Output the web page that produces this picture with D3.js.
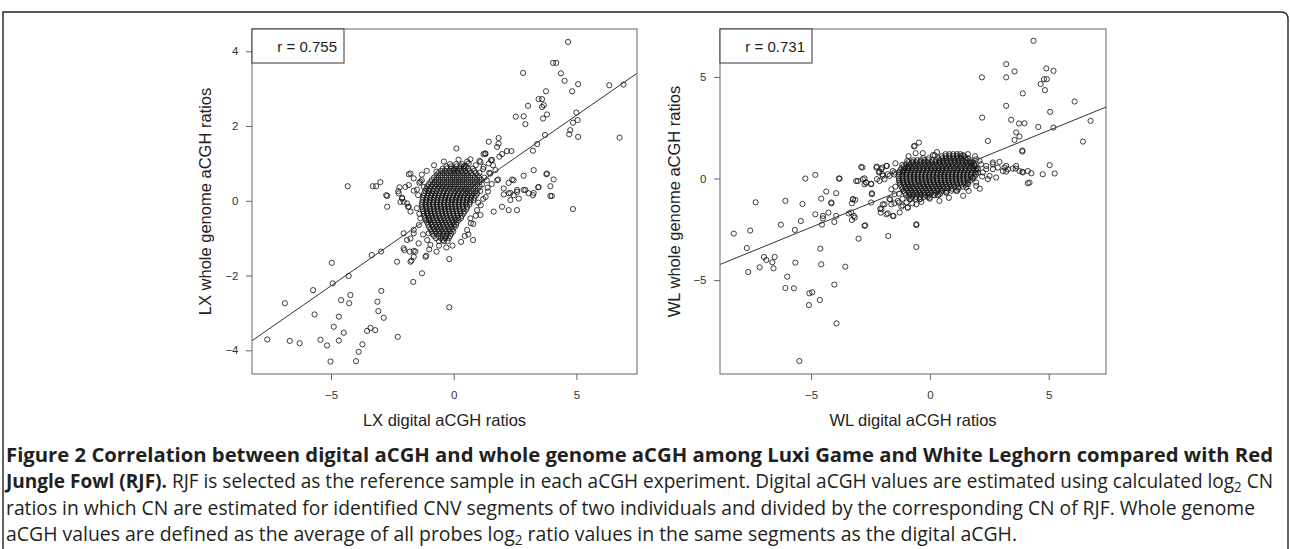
<!DOCTYPE html>
<html>
<head>
<meta charset="utf-8">
<script src="https://cdn.jsdelivr.net/npm/d3@7/dist/d3.min.js"></script>
<style>
body{margin:0;background:#fff;}
svg{display:block;font-family:"Liberation Sans",Arial,sans-serif;}
.cap{font-family:"Open Sans",sans-serif;fill:#231f20;font-size:20px;}
.axis text{fill:#333;font-size:11.5px;}
.axis line{stroke:#666;}
</style>
</head>
<body>
<script>
//Data - LX (Luxi Game) panel, scattered points
var lxPoints = [
[4.66,4.25],[2.83,3.42],[4.05,3.69],[4.18,3.69],[4.37,3.41],[4.52,3.21],[3.76,2.93],[4.83,2.93],[5.07,3.12],[6.34,3.09],[6.92,3.11],
[3.46,2.72],[3.60,2.72],[3.67,2.56],[3.60,2.51],[3.03,2.54],[3.80,2.31],[3.64,2.20],[2.53,2.25],[2.85,2.26],[2.92,2.05],
[5.00,2.36],[5.05,2.16],[4.86,2.09],[4.75,1.89],[4.71,1.78],[5.07,1.71],[6.76,1.69],[3.72,1.76],[3.40,1.52],[3.23,1.34],
[0.11,1.40],[1.83,1.68],[1.83,1.53],[1.77,1.44],[1.43,1.58],[2.17,1.33],[2.35,1.33],[1.97,1.25],[1.22,1.25],[1.29,1.25],
[0.68,1.11],[1.05,1.07],[1.52,1.09],[1.60,0.95],[1.86,1.18],[-0.70,0.78],[0,0.84],[0.44,0.93],[3.26,0.82],[2.85,0.67],
[3.78,0.71],[4.07,0.57],[3.44,0.36],[3.94,0.39],[3.94,0.13],[4.0,0.13],[1.81,0.57],[2.38,0.57],[2.44,0.55],[2.24,0.48],
[2.04,0.33],[2.31,0.21],[2.58,0.24],[2.85,0.29],[3.05,0.20],[3.26,0.21],[2.04,0.17],[2.44,0.15],[3.23,0.15],[4.86,-0.22],
[2.24,0.20],[2.58,0.29],[2.92,0.29],[3.46,0.37],[3.80,0.73],[2.31,0.02],[2.65,0.06],[2.58,-0.25],[2.24,-0.25],[1.77,0.55],
[1.49,0.73],[1.97,-0.16],[1.63,-0.29],[1.09,-0.38],[0.68,-0.47],[0.61,1.00],[0.41,0.91],[1.09,1.04],[1.29,1.27],[1.22,0.91],
[1.43,1.00],[1.56,1.09],[1.70,0.82],[1.25,0.62],[1.38,0.35],[1.30,0.10],[1.10,-0.12],[0.95,-0.25],[0.80,-0.62],[0.55,-0.78],
[1.35,0.55],[1.45,0.75],[1.20,0.85],[1.55,0.45],[1.40,0.25],[1.20,0.05],[1.00,-0.05],[0.90,-0.40],[0.70,-0.60],[0.60,-0.90],
[0.30,-1.10],[-0.05,-1.20],[-0.30,-1.25],[-0.60,-1.20],[-1.00,-1.30],[-1.25,-0.90],[-1.40,-0.35],[-1.50,0.30],[-1.30,0.55],
[-1.10,0.80],[-0.80,0.95],[-0.40,1.05],[0.20,1.10],[0.55,1.05],[0.90,0.95],[1.05,0.75],
[-4.32,0.39],[-3.30,0.39],[-3.16,0.39],[-2.99,0.50],[-2.75,0.15],[-2.21,0.36],[-2.26,0.26],[-1.83,0.71],[-1.63,0.60],
[-1.83,0.42],[-1.63,0.27],[-1.40,0.48],[-1.22,0.37],[-1.02,0.27],[-2.10,0.08],[-2.71,-0.16],[-2.24,0.20],[-2.17,-0.03],
[-1.90,-0.07],[-1.76,-0.29],[-1.86,-0.16],[-1.36,-0.47],[-1.08,-0.34],[-1.02,-0.52],[-2.04,-0.87],[-1.90,-1.05],[-1.76,-1.01],
[-1.63,-0.87],[-1.63,-0.78],[-1.43,-1.14],[-1.08,-1.05],[-0.95,-1.18],[-1.02,-0.87],[-2.01,-1.32],[-1.79,-1.36],[-1.63,-1.34],
[-2.31,-1.63],[-1.72,-1.60],[-1.12,-1.47],[-0.70,-1.36],[-0.45,-1.05],[-0.18,-1.56],[-1.29,-1.94],[-1.65,-2.17],[0.45,-0.94],
[0.79,-1.05],[-0.18,-2.85],[-1.56,-1.36],[-1.63,-1.50],[-2.04,-1.27],[-1.76,-1.63],[-1.15,-1.50],[-2.71,0.13],[-2.10,0.06],
[-2.04,-0.03],[-1.83,-0.16],[-1.76,0.73],[-1.36,0.51],[-1.97,0.37],[-1.45,0.15],[-1.50,-0.20],[-1.42,-0.65],[-1.30,0.70],
[-3.34,-1.45],[-2.96,-1.36],[-4.97,-1.66],[-4.93,-2.21],[-4.28,-2.01],[-5.73,-2.39],[-6.88,-2.74],
[-5.67,-3.04],[-4.21,-2.52],[-4.26,-2.74],[-4.59,-2.66],[-4.68,-3.10],[-4.89,-3.37],[-4.48,-3.53],[-4.68,-3.74],[-2.95,-2.41],
[-3.11,-2.70],[-3.07,-2.95],[-2.85,-3.13],[-3.53,-3.48],[-3.39,-3.40],[-3.20,-3.46],[-2.28,-3.64],[-7.60,-3.71],[-6.68,-3.75],
[-6.28,-3.81],[-5.43,-3.72],[-5.16,-3.87],[-3.72,-3.84],[-3.87,-4.04],[-3.98,-4.29],[-5.02,-4.30]
];

//LX dense core (the black blob), one row per y value: [y, [x values]]
var lxCore = [
[0.98,[-0.15,0.1,0.35]],
[0.92,[-0.3,-0.1,0.12,0.3,0.5]],
[0.86,[-0.45,-0.28,-0.1,0.06,0.22,0.4,0.58,0.78]],
[0.80,[-0.52,-0.36,-0.18,-0.02,0.14,0.3,0.47,0.64,0.84]],
[0.74,[-0.62,-0.45,-0.28,-0.12,0.04,0.2,0.37,0.53,0.7,0.9]],
[0.68,[-0.7,-0.54,-0.37,-0.2,-0.04,0.12,0.28,0.44,0.6,0.77,0.98]],
[0.62,[-0.8,-0.63,-0.46,-0.3,-0.13,0.03,0.19,0.35,0.52,0.68,0.86,1.04]],
[0.56,[-0.88,-0.71,-0.54,-0.38,-0.21,-0.05,0.11,0.27,0.43,0.6,0.77,0.95,1.12]],
[0.50,[-0.95,-0.78,-0.62,-0.45,-0.29,-0.12,0.04,0.2,0.36,0.52,0.69,0.86,1.05]],
[0.44,[-1.02,-0.86,-0.69,-0.53,-0.37,-0.2,-0.04,0.12,0.28,0.45,0.61,0.78,0.96,1.15]],
[0.38,[-1.08,-0.92,-0.76,-0.6,-0.44,-0.28,-0.12,0.04,0.2,0.37,0.53,0.7,0.88,1.06]],
[0.32,[-1.12,-0.97,-0.82,-0.66,-0.5,-0.34,-0.18,-0.02,0.14,0.3,0.46,0.62,0.8,0.98]],
[0.26,[-1.16,-1.0,-0.85,-0.7,-0.55,-0.4,-0.25,-0.09,0.07,0.23,0.39,0.55,0.72,0.9,1.08]],
[0.20,[-1.2,-1.04,-0.89,-0.74,-0.59,-0.43,-0.28,-0.13,0.02,0.17,0.33,0.49,0.65,0.82,0.96]],
[0.14,[-1.22,-1.07,-0.92,-0.77,-0.62,-0.47,-0.32,-0.17,-0.02,0.13,0.28,0.43,0.58,0.74,0.9]],
[0.08,[-1.25,-1.1,-0.95,-0.8,-0.65,-0.5,-0.35,-0.2,-0.05,0.1,0.25,0.4,0.55,0.7,0.84]],
[0.02,[-1.27,-1.12,-0.97,-0.82,-0.67,-0.52,-0.37,-0.22,-0.07,0.08,0.23,0.38,0.53,0.68,0.8]],
[-0.04,[-1.28,-1.13,-0.98,-0.83,-0.68,-0.53,-0.38,-0.23,-0.08,0.07,0.22,0.37,0.52,0.66]],
[-0.10,[-1.3,-1.15,-1.0,-0.85,-0.7,-0.55,-0.4,-0.25,-0.1,0.05,0.2,0.35,0.5,0.64]],
[-0.16,[-1.28,-1.13,-0.98,-0.83,-0.68,-0.53,-0.38,-0.23,-0.08,0.07,0.22,0.37,0.55]],
[-0.22,[-1.26,-1.11,-0.96,-0.81,-0.66,-0.51,-0.36,-0.21,-0.06,0.09,0.24,0.4,0.52]],
[-0.28,[-1.24,-1.09,-0.94,-0.79,-0.64,-0.49,-0.34,-0.19,-0.04,0.11,0.26,0.45]],
[-0.34,[-1.22,-1.07,-0.92,-0.77,-0.62,-0.47,-0.32,-0.17,-0.02,0.13,0.28,0.4]],
[-0.40,[-1.2,-1.05,-0.9,-0.75,-0.6,-0.45,-0.3,-0.15,0,0.15,0.33]],
[-0.46,[-1.16,-1.01,-0.86,-0.71,-0.56,-0.41,-0.26,-0.11,0.04,0.18,0.3]],
[-0.52,[-1.12,-0.97,-0.82,-0.67,-0.52,-0.37,-0.22,-0.07,0.08,0.2]],
[-0.58,[-1.08,-0.93,-0.78,-0.63,-0.48,-0.33,-0.18,-0.03,0.12]],
[-0.64,[-1.04,-0.89,-0.74,-0.59,-0.44,-0.29,-0.14,0.01,0.1]],
[-0.70,[-1.0,-0.85,-0.7,-0.55,-0.4,-0.25,-0.1,0.04]],
[-0.76,[-0.95,-0.8,-0.65,-0.5,-0.35,-0.2,-0.05]],
[-0.82,[-0.9,-0.75,-0.6,-0.45,-0.3,-0.15,-0.02]],
[-0.88,[-0.86,-0.7,-0.55,-0.4,-0.25,-0.1]],
[-0.94,[-0.8,-0.62,-0.45,-0.3,-0.15]],
[-1.00,[-0.72,-0.52,-0.35,-0.2]],
[-1.08,[-0.6,-0.4,-0.25]]
];

//Data - WL (White Leghorn) panel
var wlPoints = [
[4.36,6.78],[3.21,5.63],[2.19,4.98],[3.21,4.98],[3.56,5.27],[4.90,5.42],[5.20,5.30],[4.80,4.89],[4.92,4.89],[4.66,4.65],[4.84,4.35],
[3.91,4.19],[6.09,3.79],[3.21,3.58],[5.06,3.28],[2.20,3.00],[3.42,2.89],[3.75,2.71],[3.98,2.72],[6.76,2.84],[4.56,2.54],[5.20,2.51],
[3.63,2.27],[3.77,2.07],[3.56,1.90],[2.44,1.85],[6.44,1.82],[3.89,1.33],[3.89,1.38],[-0.67,1.58],[-0.46,1.77],[-0.60,1.25],[0.13,1.15],
[1.39,1.15],[5.04,0.66],[4.75,0.21],[5.25,0.25],[4.12,-0.23],[3.61,0.49],[3.89,0.33],[4.27,0.26],[3.21,0.62],[2.93,0.82],[2.65,0.70],
[2.37,0.62],[3.21,0.34],[-0.64,1.61],[0.20,1.15],[2.09,0.87],[1.88,0.66],[2.37,0.46],[2.65,0.79],[3.14,0.54],
[2.23,0.30],[2.51,0.13],[2.65,0.46],[2.86,0.54],[3.07,0.37],[3.28,0.46],[2.44,-0.03],[2.79,0.05],[3.49,0.49],[3.77,0.37],
[3.91,0.30],[4.12,0.37],[4.19,-0.20],[3.63,0.62],[1.81,0.05],[1.95,-0.20],[1.60,-0.28],[2.02,0.46],[1.74,0.79],[1.95,0.95],
[-1.45,0.75],[-1.50,0.20],[-1.45,-0.40],[-1.30,-0.75],[-1.15,-1.00],[-0.90,1.10],[-0.30,1.25],[0.30,1.30],[1.60,1.20],
[1.90,1.10],[2.15,0.70],[2.20,0.10],[2.10,-0.50],[1.40,-0.85],[0.80,-0.95],[0.40,-1.10],
[-5.24,0],[-4.82,0.18],[-3.83,0],[-4.36,-0.64],[-2.84,0.54],[-3.10,-0.12],[-2.75,0.01],[-2.68,-0.20],[-2.47,-0.25],[-2.44,-0.72],
[-2.23,0.59],[-2.0,0.54],[-1.81,0.62],[-2.12,0.34],[-2.0,0.21],[-2.12,-0.12],[-1.91,-0.03],[-1.70,0.13],[-1.56,0.37],[-1.49,0.30],
[-1.16,0.67],[-0.95,0.87],[-0.72,0.79],[-1.14,0.37],[-0.93,0.54],[-2.89,0.57],[-2.25,0.54],[-2.04,0.46],[-1.83,0.62],[-2.14,0.30],
[-1.98,0.13],[-1.77,0.21],[-2.23,-0.03],[-3.03,-0.12],[-2.82,-0.03],[-2.68,-0.20],[-2.75,-0.28],[-2.47,-0.28],[-3.80,0],
[-1.62,-0.53],[-1.49,-0.77],[-1.70,-1.02],[-1.35,-1.10],[-1.62,-1.27],[-1.20,-1.38],[-0.93,-1.43],[-1.98,-1.27],[-2.04,-1.51],
[-1.83,-1.76],[-1.56,-1.84],[-0.57,-2.25],[-1.27,-1.67],[-0.99,-1.18],[-4.15,-1.18],[-4.50,-1.84],[-3.94,-1.84],[-3.24,-1.02],
[-3.31,-1.67],[-3.16,-1.92],[-2.75,-2.33],[-2.47,-1.18],[-0.85,-1.02],[-0.43,-1.02],[-0.01,-0.94],[0.34,-0.82],[0.69,-0.69],
[1.11,-0.61],[1.53,-0.44],[1.95,-0.36],
[-3.94,-0.72],[-6.08,-1.10],[-7.33,-1.17],[-5.36,-1.25],[-4.57,-0.99],[-4.14,-1.22],[-3.24,-1.02],[-3.14,-1.05],[-3.28,-1.22],
[-2.44,-0.77],[-4.82,-1.76],[-4.27,-1.68],[-4.50,-1.96],[-5.43,-2.09],[-6.27,-2.27],[-4.54,-2.27],[-4.02,-2.14],[-3.41,-1.72],
[-3.20,-1.84],[-3.28,-2.04],[-2.72,-2.30],[-3.0,-2.96],[-5.68,-2.53],[-7.56,-2.56],[-8.25,-2.71],[-7.70,-3.42],[-6.98,-3.86],
[-6.88,-4.01],[-6.53,-3.86],[-6.63,-4.12],[-7.16,-4.37],[-7.64,-4.60],[-6.58,-4.42],[-5.66,-4.14],[-4.61,-3.45],[-4.57,-4.22],
[-3.56,-4.34],[-6.0,-4.83],[-6.08,-5.39],[-5.72,-5.40],[-5.07,-5.65],[-4.95,-5.60],[-4.02,-5.22],[-4.63,-5.98],[-5.09,-6.23],
[-3.93,-7.13],[-5.49,-8.98],[-1.75,-2.83],[-0.57,-2.29],[-0.57,-3.37],[-2.07,-1.68],[-1.91,-1.27],[-1.77,-1.71],[-1.67,-1.02],
[-1.53,-1.84],[-2.09,-1.48],[-1.49,-1.22],[-1.30,-1.18],[-1.14,-1.32],[-0.93,-1.43],[-0.74,-1.22],[-0.57,-1.27],[-0.36,-1.15],
[-0.01,-0.99],[0.20,-0.82],[0.41,-0.77],[0.69,-0.69],[1.63,-0.61]
];

//WL dense core, one row per y value
var wlCore = [
[1.20,[0.66,0.82,0.98,1.14,1.28]],
[1.10,[0.5,0.66,0.82,0.98,1.14,1.3,1.45]],
[1.00,[-0.28,-0.05,0.36,0.52,0.68,0.84,1.0,1.16,1.32,1.48,1.6]],
[0.90,[-0.7,-0.54,-0.38,-0.22,-0.06,0.1,0.26,0.42,0.58,0.74,0.9,1.06,1.22,1.38,1.54,1.7]],
[0.80,[-0.9,-0.74,-0.58,-0.42,-0.26,-0.1,0.06,0.22,0.38,0.54,0.7,0.86,1.02,1.18,1.34,1.5,1.66,1.8]],
[0.70,[-1.0,-0.84,-0.68,-0.52,-0.36,-0.2,-0.04,0.12,0.28,0.44,0.6,0.76,0.92,1.08,1.24,1.4,1.56,1.72,1.86]],
[0.60,[-1.1,-0.94,-0.78,-0.62,-0.46,-0.3,-0.14,0.02,0.18,0.34,0.5,0.66,0.82,0.98,1.14,1.3,1.46,1.62,1.78,1.9]],
[0.50,[-1.2,-1.04,-0.88,-0.72,-0.56,-0.4,-0.24,-0.08,0.08,0.24,0.4,0.56,0.72,0.88,1.04,1.2,1.36,1.52,1.68,1.84,1.96]],
[0.40,[-1.25,-1.09,-0.93,-0.77,-0.61,-0.45,-0.29,-0.13,0.03,0.19,0.35,0.51,0.67,0.83,0.99,1.15,1.31,1.47,1.63,1.79,1.95]],
[0.30,[-1.3,-1.14,-0.98,-0.82,-0.66,-0.5,-0.34,-0.18,-0.02,0.14,0.3,0.46,0.62,0.78,0.94,1.1,1.26,1.42,1.58,1.74,1.9,2.02]],
[0.20,[-1.3,-1.14,-0.98,-0.82,-0.66,-0.5,-0.34,-0.18,-0.02,0.14,0.3,0.46,0.62,0.78,0.94,1.1,1.26,1.42,1.58,1.74,1.94]],
[0.10,[-1.32,-1.16,-1.0,-0.84,-0.68,-0.52,-0.36,-0.2,-0.04,0.12,0.28,0.44,0.6,0.76,0.92,1.08,1.24,1.4,1.56,1.72,1.88]],
[0.00,[-1.3,-1.14,-0.98,-0.82,-0.66,-0.5,-0.34,-0.18,-0.02,0.14,0.3,0.46,0.62,0.78,0.94,1.1,1.26,1.42,1.58,1.8]],
[-0.10,[-1.3,-1.14,-0.98,-0.82,-0.66,-0.5,-0.34,-0.18,-0.02,0.14,0.3,0.46,0.62,0.78,0.94,1.1,1.26,1.42,1.58,1.7]],
[-0.20,[-1.28,-1.12,-0.96,-0.8,-0.64,-0.48,-0.32,-0.16,0,0.16,0.32,0.48,0.64,0.8,0.96,1.12,1.28,1.44,1.6]],
[-0.30,[-1.25,-1.09,-0.93,-0.77,-0.61,-0.45,-0.29,-0.13,0.03,0.19,0.35,0.51,0.67,0.83,0.99,1.15,1.31,1.5]],
[-0.40,[-1.2,-1.04,-0.88,-0.72,-0.56,-0.4,-0.24,-0.08,0.08,0.24,0.4,0.56,0.72,0.88,1.04,1.2,1.4]],
[-0.50,[-1.15,-0.99,-0.83,-0.67,-0.51,-0.35,-0.19,-0.03,0.13,0.29,0.45,0.61,0.77,0.93,1.2]],
[-0.60,[-1.1,-0.94,-0.78,-0.62,-0.46,-0.3,-0.14,0.02,0.18,0.34,0.5,0.7,0.9,1.15]],
[-0.70,[-1.05,-0.89,-0.73,-0.57,-0.41,-0.25,-0.09,0.07,0.23,0.45]],
[-0.80,[-1.0,-0.84,-0.68,-0.52,-0.36,-0.2,-0.04,0.15]],
[-0.90,[-0.9,-0.74,-0.58,-0.42,-0.26,-0.1]],
[-1.00,[-0.8,-0.6,-0.4]]
];

//Regression lines [intercept, slope] and correlations
var lxFit = [0.005, 0.456];
var wlFit = [-0.017, 0.477];
var rValues = ["0.755", "0.731"];

//Tick labels
var lxXTicks = [-5, 0, 5], lxYTicks = [-4, -2, 0, 2, 4];
var wlXTicks = [-5, 0, 5], wlYTicks = [-5, 0, 5];

//Axis titles
var xTitles = ["LX digital aCGH ratios", "WL digital aCGH ratios"];
var yTitles = ["LX whole genome aCGH ratios", "WL whole genome aCGH ratios"];

//Caption
var captionLines = [
  [{t:"Figure 2 Correlation between digital aCGH and whole genome aCGH among Luxi Game and White Leghorn compared with Red", b:true}],
  [{t:"Jungle Fowl (RJF).", b:true},{t:" RJF is selected as the reference sample in each aCGH experiment. Digital aCGH values are estimated using calculated log"},{t:"2",sub:true},{t:" CN"}],
  [{t:"ratios in which CN are estimated for identified CNV segments of two individuals and divided by the corresponding CN of RJF. Whole genome"}],
  [{t:"aCGH values are defined as the average of all probes log"},{t:"2",sub:true},{t:" ratio values in the same segments as the digital aCGH."}]
];

function flatten(core){
  var out = [];
  core.forEach(function(row){
    row[1].forEach(function(v){ out.push([v, row[0]]); });
  });
  return out;
}

var width = 1290, height = 549;

var svg = d3.select("body").append("svg")
  .attr("width", width)
  .attr("height", height);

//Outer frame of the figure
svg.append("path")
  .attr("d", "M3,560 L3,12 L1281,12 Q1288,12 1288,19 L1288,560")
  .attr("fill", "none")
  .attr("stroke", "#222")
  .attr("stroke-width", 1.4);

var panels = [
  {left:252, right:637, top:29, bottom:374, xDom:[-8.22,7.47], yDom:[-4.634,4.596],
   pts:lxPoints.concat(flatten(lxCore)), fit:lxFit, r:rValues[0], xt:lxXTicks, yt:lxYTicks,
   xTitle:xTitles[0], yTitle:yTitles[0], yTitleX:211},
  {left:720, right:1106, top:29, bottom:374, xDom:[-8.83,7.41], yDom:[-9.62,7.36],
   pts:wlPoints.concat(flatten(wlCore)), fit:wlFit, r:rValues[1], xt:wlXTicks, yt:wlYTicks,
   xTitle:xTitles[1], yTitle:yTitles[1], yTitleX:679.5}
];

var minusFmt = function(d){ return d < 0 ? "\u2212" + Math.abs(d) : String(d); };

panels.forEach(function(p, i){
  var x = d3.scaleLinear().domain(p.xDom).range([p.left, p.right]);
  var y = d3.scaleLinear().domain(p.yDom).range([p.bottom, p.top]);
  var g = svg.append("g");

  g.append("clipPath").attr("id", "clip" + i)
    .append("rect")
    .attr("x", p.left).attr("y", p.top)
    .attr("width", p.right - p.left).attr("height", p.bottom - p.top);

  //points
  g.append("g")
    .attr("clip-path", "url(#clip" + i + ")")
    .selectAll("circle")
    .data(p.pts)
    .enter().append("circle")
    .attr("cx", function(d){ return x(d[0]); })
    .attr("cy", function(d){ return y(d[1]); })
    .attr("r", 2.6)
    .attr("fill", "none")
    .attr("stroke", "#111")
    .attr("stroke-width", 0.9)
    .attr("stroke-opacity", 0.9);

  //regression line
  g.append("line")
    .attr("clip-path", "url(#clip" + i + ")")
    .attr("x1", x(p.xDom[0])).attr("y1", y(p.fit[0] + p.fit[1] * p.xDom[0]))
    .attr("x2", x(p.xDom[1])).attr("y2", y(p.fit[0] + p.fit[1] * p.xDom[1]))
    .attr("stroke", "#333")
    .attr("stroke-width", 1);

  //axes
  var xAxis = d3.axisBottom(x).tickValues(p.xt).tickSize(6).tickPadding(11).tickFormat(minusFmt);
  var yAxis = d3.axisLeft(y).tickValues(p.yt).tickSize(6).tickPadding(7.5).tickFormat(minusFmt);

  var gx = g.append("g").attr("class", "axis")
    .attr("transform", "translate(0," + p.bottom + ")")
    .call(xAxis);
  var gy = g.append("g").attr("class", "axis")
    .attr("transform", "translate(" + p.left + ",0)")
    .call(yAxis);
  gx.select(".domain").remove();
  gy.select(".domain").remove();
  g.selectAll(".axis text").attr("font-family", null);

  //plot box
  g.append("rect")
    .attr("x", p.left).attr("y", p.top)
    .attr("width", p.right - p.left).attr("height", p.bottom - p.top)
    .attr("fill", "none")
    .attr("stroke", "#666")
    .attr("stroke-width", 1);

  //legend box with r
  g.append("rect")
    .attr("x", p.left).attr("y", p.top)
    .attr("width", 92).attr("height", 34)
    .attr("fill", "#fff")
    .attr("stroke", "#333")
    .attr("stroke-width", 1);
  g.append("text")
    .attr("x", p.left + 85).attr("y", p.top + 23)
    .attr("text-anchor", "end")
    .attr("font-size", 15)
    .attr("fill", "#222")
    .text("r = " + p.r);

  //axis titles
  g.append("text")
    .attr("x", (p.left + p.right) / 2).attr("y", 426)
    .attr("text-anchor", "middle")
    .attr("font-size", 16.5)
    .attr("fill", "#222")
    .text(p.xTitle);
  g.append("text")
    .attr("transform", "translate(" + p.yTitleX + "," + ((p.top + p.bottom) / 2) + ") rotate(-90)")
    .attr("text-anchor", "middle")
    .attr("font-size", 16.5)
    .attr("fill", "#222")
    .text(p.yTitle);
});

//Caption: each line squeezed to the width it has in the figure
var capY = [461.5, 488, 514.5, 541];
var capLen = [1267, 1267, 1249, 1011];
captionLines.forEach(function(line, i){
  var t = svg.append("text")
    .attr("class", "cap")
    .attr("x", 6).attr("y", capY[i])
    .attr("textLength", capLen[i])
    .attr("lengthAdjust", "spacingAndGlyphs");
  var shifted = false;
  line.forEach(function(part){
    var s = t.append("tspan").text(part.t);
    if (part.b) s.attr("font-weight", "bold");
    if (part.sub) {
      s.attr("font-size", 14).attr("dy", 4);
      shifted = true;
    } else if (shifted) {
      s.attr("dy", -4);
      shifted = false;
    }
  });
});
</script>
</body>
</html>
